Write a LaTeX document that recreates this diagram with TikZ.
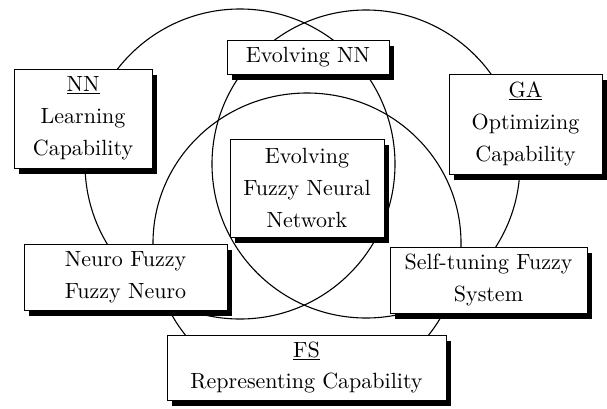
\documentclass[tikz,border=0pt]{standalone}
\usepackage{fontspec}
\setmainfont{lmroman10-regular.otf}
\usetikzlibrary{shadows}
\begin{document}
\begin{tikzpicture}[x=1pt,y=-1pt,
  setline/.style={line width=1.1pt},
  box/.style={draw, line width=0.9pt, fill=white, inner sep=0pt, align=center,
    font=\fontsize{22}{32}\selectfont,
    drop shadow={shadow xshift=5pt, shadow yshift=-6pt, fill=black, opacity=1}},
]
\useasboundingbox (0,0) rectangle (607,408);

% the three overlapping sets
\coordinate (nnc) at (240,164);
\coordinate (gac) at (366,164);
\coordinate (fsc) at (307,243);
\draw[setline] (nnc) circle [radius=155pt];
\draw[setline] (gac) circle [radius=154pt];
\draw[setline] (fsc) ellipse [x radius=154pt, y radius=150pt];

% labels of the sets and of their overlaps
\node[box, minimum width=138pt, minimum height=99pt] (nn) at (83,118.5)
  {\underline{NN}\\Learning\\Capability};
\node[box, minimum width=162pt, minimum height=34pt] (enn) at (308,57)
  {Evolving NN};
\node[box, minimum width=153pt, minimum height=100pt] (ga) at (525.5,124)
  {\underline{GA}\\Optimizing\\Capability};
\node[box, minimum width=154pt, minimum height=98pt] (efnn) at (307,188)
  {Evolving\\Fuzzy Neural\\Network};
\node[box, minimum width=203pt, minimum height=66pt] (nf) at (125.5,277)
  {Neuro Fuzzy\\Fuzzy Neuro};
\node[box, minimum width=197pt, minimum height=66pt] (st) at (488.5,280)
  {Self-tuning Fuzzy\\System};
\node[box, minimum width=279pt, minimum height=65pt] (fs) at (306.5,367.5)
  {\underline{FS}\\Representing Capability};
\end{tikzpicture}
\end{document}
